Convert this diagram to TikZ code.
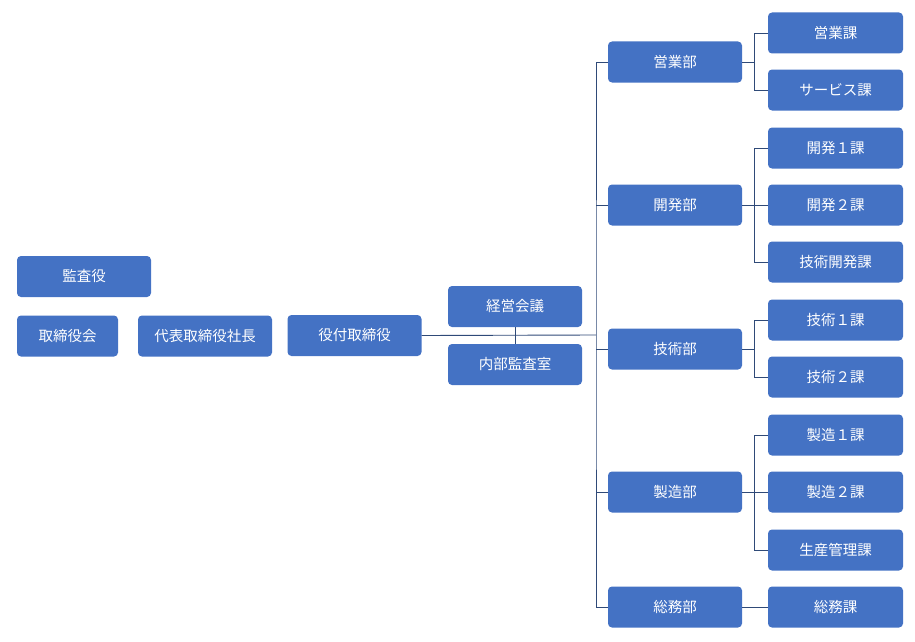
\documentclass[tikz,border=0pt]{standalone}
\usepackage{fontspec}
\setmainfont{Noto Sans CJK JP}
\begin{document}
\begin{tikzpicture}[x=1pt,y=-1pt,
  bx/.style={draw=none,fill=boxblue,rounded corners=4pt,text=white,minimum height=41pt,font=\fontsize{14.5}{16}\selectfont,inner sep=0pt},
  w134/.style={minimum width=134pt},
  ln/.style={draw=lineblue,line width=0.9pt}]
\definecolor{boxblue}{HTML}{4472C4}
\definecolor{lineblue}{HTML}{2F4A78}
\useasboundingbox (0,0) rectangle (915,642);
\node[bx,w134] (kansa) at (84,276.5) {監査役};
\node[bx,minimum width=101pt] (tori) at (67.5,336) {取締役会};
\node[bx,w134] (daihyo) at (205,336) {代表取締役社長};
\node[bx,w134] (yaku) at (354.5,335.5) {役付取締役};
\node[bx,w134] (keiei) at (515,306.5) {経営会議};
\node[bx,w134] (naibu) at (515,364.5) {内部監査室};
\foreach \n/\t/\y in {eigyo/営業部/62,kaihatsu/開発部/205,gijutsu/技術部/349,seizo/製造部/492,somu/総務部/607}
  \node[bx,w134] (\n) at (675,\y) {\t};
\foreach \n/\t/\y in {s1/営業課/33,s2/サービス課/90,s3/開発１課/148,s4/開発２課/205,s5/技術開発課/262,s6/技術１課/320,s7/技術２課/377,s8/製造１課/435,s9/製造２課/492,s10/生産管理課/550,s11/総務課/607}
  \node[bx,minimum width=135pt] (\n) at (835.5,\y) {\t};
\coordinate (bus) at (596,335);
\draw[ln] (yaku.east) -- (bus);
\draw[ln] (keiei.south) -- (naibu.north);
\draw[ln] (eigyo.west) -| (596,335) |- (somu.west);
\foreach \n in {kaihatsu,gijutsu,seizo} \draw[ln] (596,0 |- \n.west) -- (\n.west);
\foreach \d/\a/\b in {eigyo/s1/s2,kaihatsu/s3/s5,gijutsu/s6/s7,seizo/s8/s10}{
  \draw[ln] (\d.east) -- ++(13,0);
  \draw[ln] (\a.west) -- ++(-13,0) |- (\b.west);
}
\draw[ln] (kaihatsu.east) -- (s4.west);
\draw[ln] (seizo.east) -- (s9.west);
\draw[ln] (somu.east) -- (s11.west);
\end{tikzpicture}
\end{document}
